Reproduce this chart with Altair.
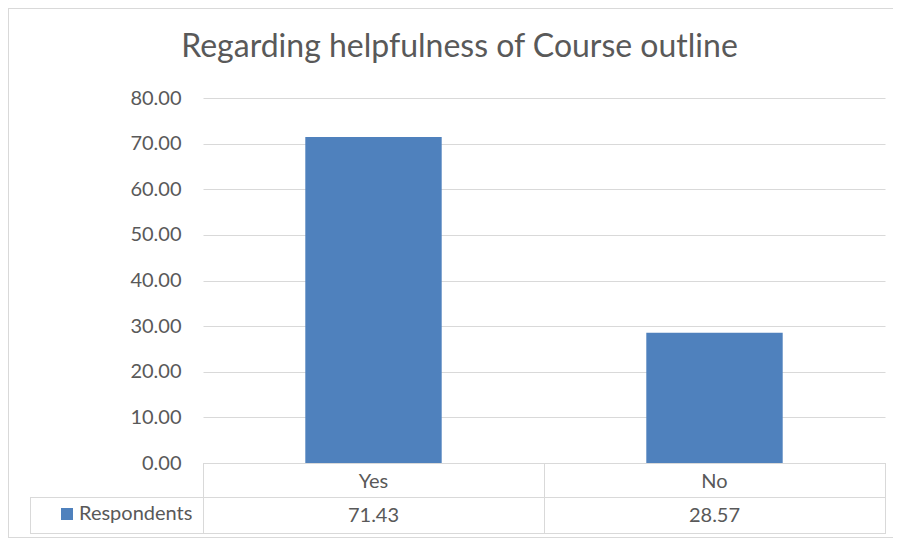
import altair as alt
import pandas as pd

categories = ["Yes", "No"]
values = [71.43, 28.57]
series_name = "Respondents"
y_ticks = [0, 10, 20, 30, 40, 50, 60, 70, 80]
title_text = "Regarding helpfulness of Course outline"

FONT = "Lato"
GRAY_TXT = "#595959"
GRID = "#d9d9d9"
BAR = "#4f81bd"

df = pd.DataFrame({"category": categories, "value": values, "series": [series_name] * len(categories)})

W, H = 682, 365
PL, PT, PR, PB = 195, 90, 8, 75

xscale = alt.Scale(domain=categories, paddingInner=0.6, paddingOuter=0.3)

bars = alt.Chart(df).mark_bar(color=BAR).encode(
    x=alt.X("category:N", scale=xscale, sort=categories,
            axis=alt.Axis(title=None, labelAngle=0, ticks=False, domain=True, domainColor=GRID,
                          labelFont=FONT, labelFontSize=20, labelColor=GRAY_TXT, labelPadding=8)),
    y=alt.Y("value:Q", scale=alt.Scale(domain=[0, 80], nice=False),
            axis=alt.Axis(title=None, values=y_ticks, format=".2f", ticks=False, domain=False,
                          grid=True, gridColor=GRID, gridWidth=1,
                          labelFont=FONT, labelFontSize=20, labelColor=GRAY_TXT, labelPadding=22)),
    color=alt.Color("series:N", scale=alt.Scale(range=[BAR]),
                    legend=alt.Legend(title=None, orient="none", legendX=-146, legendY=406,
                                      symbolType="square", symbolSize=144, symbolStrokeWidth=0,
                                      labelFont=FONT, labelFontSize=20, labelColor=GRAY_TXT,
                                      labelOffset=2, padding=0)),
)

table_vals = alt.Chart(df).mark_text(font=FONT, fontSize=20, color=GRAY_TXT, baseline="middle").encode(
    x=alt.X("category:N", scale=xscale, sort=categories),
    y=alt.value(418),
    text=alt.Text("value:Q", format=".2f"),
)

title = alt.Chart(pd.DataFrame({"t": [title_text]})).mark_text(
    font=FONT, fontSize=32, color=GRAY_TXT, baseline="alphabetic", align="center"
).encode(x=alt.value(256.5), y=alt.value(-41), text="t:N")

def hrule(x1, x2, y):
    return alt.Chart(df.head(1)).mark_rule(color=GRID, strokeWidth=1).encode(
        x=alt.value(x1), x2=alt.value(x2), y=alt.value(y))

def vrule(x, y1, y2):
    return alt.Chart(df.head(1)).mark_rule(color=GRID, strokeWidth=1).encode(
        x=alt.value(x), y=alt.value(y1), y2=alt.value(y2))

rules = [
    hrule(-173, W, 399.5),
    hrule(-173, W, 435.5),
    vrule(-172.5, 399, 436),
    vrule(0.5, 365, 436),
    vrule(341.5, 365, 436),
    vrule(W + 0.5, 365, 436),
    # chart area border
    hrule(-195, W + PR, -89.5),
    hrule(-195, W + PR, H + PB - 0.5),
    vrule(-194.5, -90, H + PB),
]

chart = alt.layer(bars, table_vals, title, *rules).properties(
    width=W, height=H,
    padding={"left": PL, "top": PT, "right": PR, "bottom": PB},
    autosize=alt.AutoSizeParams(type="none"),
).configure_view(stroke=None)

chart.save("out.html", embed_options={"renderer": "svg", "actions": False})
